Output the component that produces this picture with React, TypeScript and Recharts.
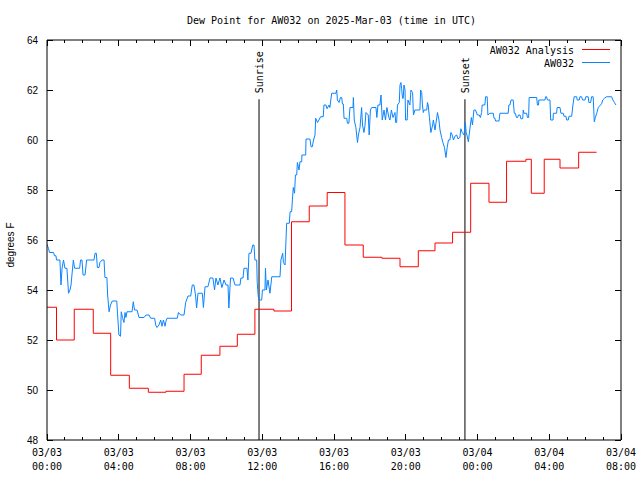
import React from 'react';
import { LineChart, Line, XAxis, YAxis, ReferenceLine } from 'recharts';

// ---- data ----
const chartTitle = 'Dew Point for AW032 on 2025-Mar-03 (time in UTC)';
const yLabel = 'degrees F';
const analysisName = 'AW032 Analysis';
const stationName = 'AW032';

// hours since 03/03 00:00 UTC
const xTickHours = [0, 4, 8, 12, 16, 20, 24, 28, 32];
const xTickDates = ['03/03', '03/03', '03/03', '03/03', '03/03', '03/03', '03/04', '03/04', '03/04'];
const xTickTimes = ['00:00', '04:00', '08:00', '12:00', '16:00', '20:00', '00:00', '04:00', '08:00'];
const xMinorHours = Array.from({ length: 33 }, (_, i) => i);
const yTicks = [48, 50, 52, 54, 56, 58, 60, 62, 64];

const sunriseHour = 11.82;
const sunsetHour = 23.3;

// [hour, dew point F]
const analysisSteps: [number, number][] = [
  [0, 53.31], [0.53, 52.0], [1.52, 53.23], [2.58, 52.27], [3.55, 50.59], [4.59, 50.07],
  [5.65, 49.91], [6.63, 49.95], [7.64, 50.63], [8.6, 51.39], [9.64, 51.75], [10.61, 52.23],
  [11.59, 53.23], [12.65, 53.16], [13.63, 56.73], [14.62, 57.36], [15.62, 57.9], [16.61, 55.8],
  [17.63, 55.31], [18.67, 55.27], [19.68, 54.93], [20.7, 55.57], [21.63, 55.88], [22.61, 56.31],
  [23.62, 58.27], [24.64, 57.51], [25.62, 59.15], [26.7, 59.23], [27.0, 57.87], [27.72, 59.23],
  [28.6, 58.88], [29.64, 59.51], [30.64, 59.51],
];

const stationObs: [number, number][] = [
  [0.00, 55.83], [0.08, 55.67], [0.14, 55.5], [0.36, 55.5], [0.42, 55.37], [0.50, 55.37],
  [0.53, 55.2], [0.72, 55.2], [0.78, 54.2], [0.84, 54.87], [0.92, 55.2], [1.00, 54.87],
  [1.11, 54.87], [1.20, 53.87], [1.28, 54.0], [1.34, 54.2], [1.39, 54.6], [1.47, 55.2],
  [1.54, 54.87], [1.82, 54.87], [1.87, 55.2], [1.95, 55.2], [2.01, 54.6], [2.12, 54.6],
  [2.21, 55.2], [2.62, 55.2], [2.68, 55.47], [2.75, 55.47], [2.81, 54.9], [2.90, 54.9],
  [2.95, 55.1], [3.07, 55.2], [3.18, 55.2], [3.23, 54.5], [3.34, 54.5], [3.38, 53.8],
  [3.46, 53.13], [3.54, 53.4], [3.64, 53.56], [3.89, 53.56], [3.93, 53.07], [4.01, 52.2],
  [4.10, 52.15], [4.14, 53.13], [4.21, 52.9], [4.29, 52.7], [4.35, 53.1], [4.40, 52.9],
  [4.46, 53.13], [4.74, 53.13], [4.81, 53.53], [4.88, 53.2], [5.02, 53.2], [5.13, 52.9],
  [5.41, 52.9], [5.52, 53.0], [5.69, 53.0], [5.78, 52.87], [6.00, 52.87], [6.06, 52.6],
  [6.13, 52.5], [6.24, 52.6], [6.34, 52.8], [6.41, 52.55], [6.49, 52.8], [6.58, 52.55],
  [6.63, 52.75], [6.69, 52.87], [7.26, 52.87], [7.33, 53.1], [7.45, 53.0], [7.64, 53.0],
  [7.73, 53.5], [7.86, 53.76], [8.01, 53.76], [8.10, 54.2], [8.19, 54.2], [8.28, 53.8],
  [8.34, 53.28], [8.42, 53.87], [8.66, 53.87], [8.72, 53.3], [8.81, 54.13], [8.97, 54.13],
  [9.09, 54.48], [9.25, 54.48], [9.34, 54.0], [9.42, 54.48], [9.53, 54.2], [9.64, 54.48],
  [9.75, 54.1], [9.87, 54.4], [9.98, 54.2], [10.09, 54.2], [10.14, 53.28], [10.23, 54.48],
  [10.37, 54.48], [10.48, 54.2], [10.76, 54.2], [10.81, 54.48], [10.93, 54.48], [10.98, 54.87],
  [11.15, 54.87], [11.20, 54.4], [11.26, 55.47], [11.37, 55.47], [11.47, 55.8], [11.54, 55.8],
  [11.59, 55.2], [11.69, 55.2], [11.72, 54.3], [11.78, 53.73], [11.83, 53.6], [11.97, 53.6],
  [12.01, 54.0], [12.15, 54.0], [12.18, 54.87], [12.23, 54.0], [12.32, 54.4], [12.43, 53.87],
  [12.53, 54.53], [12.99, 54.53], [13.04, 55.2], [13.14, 55.47], [13.18, 55.1], [13.27, 55.0],
  [13.36, 56.67], [13.51, 56.67], [13.55, 57.13], [13.64, 57.13], [13.68, 57.6], [13.73, 58.1],
  [13.80, 57.87], [13.85, 58.6], [13.92, 58.6], [13.96, 59.1], [14.05, 58.8], [14.10, 59.13],
  [14.20, 59.13], [14.21, 59.4], [14.42, 59.4], [14.44, 60.04], [14.66, 60.04], [14.72, 59.73],
  [14.79, 59.73], [14.86, 60.0], [14.94, 60.2], [14.98, 60.87], [15.08, 60.7], [15.16, 60.8],
  [15.25, 60.93], [15.40, 60.93], [15.44, 61.4], [15.55, 61.4], [15.61, 61.25], [15.72, 61.4],
  [15.77, 61.3], [15.87, 61.87], [16.11, 61.87], [16.15, 62.0], [16.19, 61.6], [16.28, 61.5],
  [16.36, 61.7], [16.43, 61.7], [16.47, 61.44], [16.52, 61.44], [16.56, 60.87], [16.71, 60.87],
  [16.75, 60.67], [16.83, 60.67], [16.89, 61.3], [17.06, 61.3], [17.08, 61.7], [17.13, 60.8],
  [17.22, 60.5], [17.31, 59.9], [17.36, 60.2], [17.45, 60.5], [17.54, 61.3], [17.59, 60.6],
  [17.67, 60.3], [17.73, 60.6], [17.78, 61.1], [17.91, 61.0], [17.96, 60.2], [18.03, 61.2],
  [18.10, 61.3], [18.34, 61.3], [18.39, 60.9], [18.45, 61.4], [18.56, 61.4], [18.62, 61.8],
  [18.69, 60.8], [18.79, 61.2], [18.87, 60.8], [18.95, 61.3], [19.06, 60.9], [19.12, 60.8],
  [19.20, 61.2], [19.29, 60.9], [19.40, 61.1], [19.44, 60.7], [19.49, 60.7], [19.54, 61.4],
  [19.64, 61.5], [19.68, 62.2], [19.73, 62.3], [19.77, 62.07], [19.82, 61.67], [19.86, 61.67],
  [19.90, 62.2], [19.96, 62.0], [19.99, 60.8], [20.08, 60.8], [20.12, 61.6], [20.23, 61.4],
  [20.29, 62.0], [20.38, 61.9], [20.43, 61.0], [20.51, 61.2], [20.79, 61.2], [20.83, 62.0],
  [20.89, 61.9], [20.93, 61.4], [20.98, 61.1], [21.02, 61.2], [21.17, 61.2], [21.21, 61.5],
  [21.25, 61.4], [21.32, 60.9], [21.40, 60.3], [21.50, 60.6], [21.54, 60.8], [21.63, 60.4],
  [21.69, 60.7], [21.77, 61.1], [21.85, 60.8], [21.91, 60.4], [22.00, 60.1], [22.07, 59.9],
  [22.16, 59.7], [22.24, 59.3], [22.31, 59.7], [22.38, 60.0], [22.46, 60.0], [22.52, 60.3],
  [22.59, 60.2], [22.66, 60.0], [22.74, 60.15], [22.84, 60.2], [22.91, 60.05], [23.02, 60.1],
  [23.07, 60.45], [23.15, 60.3], [23.25, 60.2], [23.32, 60.7], [23.37, 60.3], [23.41, 60.2],
  [23.49, 59.93], [23.58, 60.47], [23.66, 60.9], [23.72, 60.6], [23.80, 61.2], [23.89, 61.2],
  [23.99, 61.0], [24.10, 61.0], [24.16, 60.9], [24.23, 61.1], [24.26, 61.4], [24.41, 61.4],
  [24.45, 61.73], [24.54, 61.73], [24.58, 61.0], [24.69, 61.07], [24.88, 61.07], [24.92, 60.87],
  [24.97, 60.87], [25.01, 60.76], [25.20, 60.76], [25.25, 61.07], [25.71, 61.07], [25.75, 61.4],
  [25.81, 61.4], [25.87, 61.6], [25.99, 61.6], [26.05, 61.07], [26.11, 61.07], [26.17, 60.9],
  [26.24, 60.9], [26.28, 61.0], [26.37, 61.0], [26.42, 60.85], [26.52, 60.85], [26.55, 61.2],
  [26.59, 61.07], [26.74, 61.07], [26.78, 60.9], [26.85, 60.9], [26.88, 61.7], [27.30, 61.7],
  [27.34, 61.4], [27.40, 61.4], [27.42, 61.6], [27.76, 61.6], [27.80, 61.73], [27.85, 61.73],
  [27.90, 61.6], [28.04, 61.6], [28.08, 60.8], [28.21, 60.8], [28.23, 61.07], [28.41, 61.07],
  [28.44, 61.3], [28.60, 61.3], [28.65, 61.07], [28.78, 61.07], [28.82, 60.95], [28.93, 60.95],
  [28.97, 60.8], [29.06, 60.8], [29.10, 60.95], [29.25, 60.95], [29.32, 61.4], [29.39, 61.73],
  [29.53, 61.73], [29.56, 61.6], [29.67, 61.6], [29.71, 61.73], [29.80, 61.73], [29.86, 61.6],
  [29.99, 61.6], [30.04, 61.73], [30.17, 61.73], [30.21, 61.5], [30.31, 61.5], [30.36, 61.73],
  [30.45, 61.73], [30.51, 60.73], [30.57, 60.9], [30.66, 61.1], [30.73, 61.3], [30.92, 61.45],
  [30.98, 61.6], [31.08, 61.67], [31.20, 61.73], [31.48, 61.73], [31.55, 61.6], [31.63, 61.5],
  [31.72, 61.4],
];

const analysisData = analysisSteps.map(([h, v]) => ({ h, v }));
const stationData = stationObs.map(([h, v]) => ({ h, v }));

// ---- styles ----
const RED = '#ff0000';
const BLUE = '#0a84ff';
const MONO = 'DejaVu Sans Mono';
const SANS = 'Liberation Sans';

const BottomTick = (props: any) => {
  const { x, y, payload } = props;
  const h = payload.value as number;
  const idx = xTickHours.indexOf(h);
  const major = idx >= 0;
  return (
    <g>
      <line x1={x} x2={x} y1={y} y2={y - (major ? 6 : 3)} stroke="#000" shapeRendering="crispEdges" />
      {major && (
        <text x={x} y={y + 16} textAnchor="middle" fontFamily={MONO} fontSize={10} fill="#000">
          {xTickDates[idx]}
        </text>
      )}
      {major && (
        <text x={x} y={y + 30} textAnchor="middle" fontFamily={MONO} fontSize={10} fill="#000">
          {xTickTimes[idx]}
        </text>
      )}
    </g>
  );
};

const TopTick = (props: any) => {
  const { x, y, payload } = props;
  const major = xTickHours.indexOf(payload.value) >= 0;
  return <line x1={x} x2={x} y1={y} y2={y + (major ? 6 : 3)} stroke="#000" shapeRendering="crispEdges" />;
};

const LeftTick = (props: any) => {
  const { x, y, payload } = props;
  return (
    <g>
      <line x1={x} x2={x + 6} y1={y} y2={y} stroke="#000" shapeRendering="crispEdges" />
      <text x={x - 9} y={y + 4} textAnchor="end" fontFamily={SANS} fontSize={10} fill="#000">
        {payload.value}
      </text>
    </g>
  );
};

const RightTick = (props: any) => {
  const { x, y } = props;
  return <line x1={x} x2={x - 6} y1={y} y2={y} stroke="#000" shapeRendering="crispEdges" />;
};

const eventLabel = (text: string) => (props: any) => {
  const vb = props.viewBox || {};
  const x = (vb.x ?? 0) + 4;
  const y = (vb.y ?? 0) - 6;
  return (
    <text x={x} y={y} transform={`rotate(-90 ${x} ${y})`} fontFamily={MONO} fontSize={10} fill="#000" textAnchor="start">
      {text}
    </text>
  );
};

export default function App() {
  return (
    <div style={{ position: 'absolute', left: 0, top: 0, width: 640, height: 480, background: '#fff' }}>
      <LineChart width={640} height={480} margin={{ top: 30, right: 9, bottom: 0, left: 7 }}>
        <XAxis
          xAxisId="b"
          dataKey="h"
          type="number"
          domain={[0, 32]}
          ticks={xMinorHours}
          interval={0}
          height={40}
          tickSize={0}
          tickMargin={0}
          tickLine={false}
          axisLine={{ stroke: '#000' }}
          tick={<BottomTick />}
          allowDataOverflow
        />
        <XAxis
          xAxisId="t"
          orientation="top"
          dataKey="h"
          type="number"
          domain={[0, 32]}
          ticks={xMinorHours}
          interval={0}
          height={10}
          tickSize={0}
          tickMargin={0}
          tickLine={false}
          axisLine={{ stroke: '#000' }}
          tick={<TopTick />}
          allowDataOverflow
        />
        <YAxis
          yAxisId="l"
          type="number"
          domain={[48, 64]}
          ticks={yTicks}
          interval={0}
          width={40}
          tickSize={0}
          tickMargin={0}
          tickLine={false}
          axisLine={{ stroke: '#000' }}
          tick={<LeftTick />}
          allowDataOverflow
        />
        <YAxis
          yAxisId="r"
          orientation="right"
          type="number"
          domain={[48, 64]}
          ticks={yTicks}
          interval={0}
          width={10}
          tickSize={0}
          tickMargin={0}
          tickLine={false}
          axisLine={{ stroke: '#000' }}
          tick={<RightTick />}
          allowDataOverflow
        />
        <ReferenceLine
          xAxisId="b"
          yAxisId="l"
          segment={[{ x: sunriseHour, y: 61.63 }, { x: sunriseHour, y: 48 }]}
          stroke="#000"
          strokeWidth={1}
          label={eventLabel('Sunrise')}
        />
        <ReferenceLine
          xAxisId="b"
          yAxisId="l"
          segment={[{ x: sunsetHour, y: 61.63 }, { x: sunsetHour, y: 48 }]}
          stroke="#000"
          strokeWidth={1}
          label={eventLabel('Sunset')}
        />
        <Line
          xAxisId="b"
          yAxisId="l"
          data={analysisData}
          dataKey="v"
          type="stepAfter"
          stroke={RED}
          strokeWidth={1}
          dot={false}
          activeDot={false}
          isAnimationActive={false}
        />
        <Line
          xAxisId="b"
          yAxisId="l"
          data={stationData}
          dataKey="v"
          type="linear"
          stroke={BLUE}
          strokeWidth={1}
          dot={false}
          activeDot={false}
          isAnimationActive={false}
        />
      </LineChart>
      <svg width={640} height={480} style={{ position: 'absolute', left: 0, top: 0, pointerEvents: 'none' }}>
        <text x={331.5} y={24} textAnchor="middle" fontFamily={MONO} fontSize={10} fill="#000">
          {chartTitle}
        </text>
        <text
          x={14}
          y={245}
          transform="rotate(-90 14 245)"
          textAnchor="middle"
          fontFamily={SANS}
          fontSize={10}
          fill="#000"
        >
          {yLabel}
        </text>
        <text x={574} y={54} textAnchor="end" fontFamily={MONO} fontSize={10} fill="#000">
          {analysisName}
        </text>
        <line x1={582} x2={610} y1={49.5} y2={49.5} stroke={RED} />
        <text x={574} y={66.5} textAnchor="end" fontFamily={MONO} fontSize={10} fill="#000">
          {stationName}
        </text>
        <line x1={582} x2={610} y1={62.5} y2={62.5} stroke={BLUE} />
      </svg>
    </div>
  );
}
